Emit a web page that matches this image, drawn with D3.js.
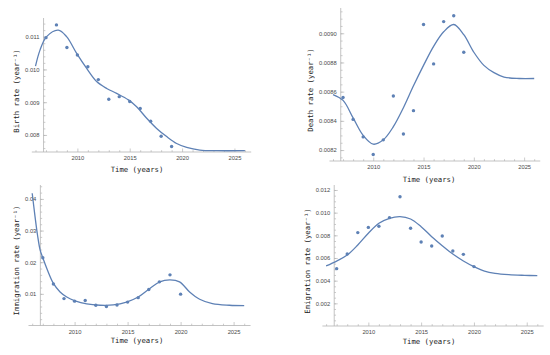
<!DOCTYPE html>
<html>
<head>
<meta charset="utf-8">
<script src="https://cdn.jsdelivr.net/npm/d3@7"></script>
<style>
  body { margin: 0; background: #fff; }
  svg { display: block; }
</style>
</head>
<body>
<script>
// observed yearly rates
var birthYears = [2007,2008,2009,2010,2011,2012,2013,2014,2015,2016,2017,2018,2019];
var birthRate = [0.01097,0.01136,0.01067,0.01044,0.01008,0.00969,0.00909,0.00917,0.00902,0.00881,0.00842,0.00796,0.00765];

var deathYears = [2007,2008,2009,2010,2011,2012,2013,2014,2015,2016,2017,2018,2019];
var deathRate = [0.00856,0.00841,0.00829,0.00817,0.00827,0.00857,0.00831,0.00847,0.00906,0.00879,0.00908,0.00912,0.00887];

var immigrationYears = [2007,2008,2009,2010,2011,2012,2013,2014,2015,2016,2017,2018,2019,2020];
var immigrationRate = [0.0214,0.0131,0.0085,0.0077,0.0079,0.0064,0.0060,0.0065,0.0074,0.0088,0.0114,0.0138,0.0160,0.0099];

var emigrationYears = [2007,2008,2009,2010,2011,2012,2013,2014,2015,2016,2017,2018,2019,2020];
var emigrationRate = [0.00506,0.00635,0.00824,0.00870,0.00880,0.00956,0.01140,0.00862,0.00741,0.00706,0.00794,0.00662,0.00632,0.00524];

// fitted curves
var birthFitYears = [2006,2006.43,2007.06,2008.18,2008.97,2009.93,2010.89,2011.84,2012.8,2013.75,2014.87,2015.66,2016.62,2017.57,2018.53,2019.48,2020.44,2021.7,2023.3,2026];
var birthFitRate = [0.0101,0.01059,0.0110,0.0112,0.0110,0.01049,0.01003,0.00963,0.00942,0.00927,0.00907,0.00886,0.00851,0.0082,0.00795,0.00774,0.00762,0.00754,0.00752,0.00752];

var deathFitYears = [2006,2007,2008,2009,2010,2011,2012,2013,2014,2015,2016,2017,2018,2019,2020,2021,2022,2023,2024.5,2026];
var deathFitRate = [0.00858,0.00854,0.00842,0.0083,0.00824,0.00827,0.00836,0.00849,0.00864,0.00878,0.00891,0.00901,0.00906,0.00899,0.00887,0.00878,0.00873,0.0087,0.00869,0.00869];

var immigrationFitYears = [2006,2006.25,2006.5,2006.75,2007,2007.38,2008,2008.63,2009.26,2010.04,2011.14,2012.39,2013.65,2014.9,2016,2017.1,2018.03,2019,2019.9,2020.85,2021.8,2023,2024.6,2026];
var immigrationFitRate = [0.0418,0.0349,0.0286,0.0238,0.0214,0.018,0.0133,0.0106,0.009,0.0078,0.0068,0.0064,0.0065,0.0074,0.009,0.0117,0.0138,0.0144,0.0138,0.0106,0.0083,0.0069,0.0064,0.0063];

var emigrationFitYears = [2006,2007,2008,2009,2010,2011,2012,2013,2014,2015,2016,2017,2018,2019,2020,2021,2022,2023.3,2024.8,2026];
var emigrationFitRate = [0.0053,0.00573,0.00626,0.00715,0.00818,0.00906,0.0095,0.00965,0.00944,0.00876,0.00788,0.00709,0.00635,0.00574,0.00524,0.00485,0.00465,0.00453,0.00447,0.00444];

// ticks
var yearTicks = [2010,2015,2020,2025];
var birthTicks = [0.008,0.009,0.010,0.011];
var deathTicks = [0.0082,0.0084,0.0086,0.0088,0.0090];
var immigrationTicks = [0.01,0.02,0.03,0.04];
var emigrationTicks = [0.002,0.004,0.006,0.008,0.010,0.012];

var W = 550, H = 355;
var blue = "#5e81b5";
var axisGray = "#b4b4b4";

var svg = d3.select("body").append("svg").attr("width", W).attr("height", H);

var panels = [
	{ label: "Birth rate (year\u207B\u00B9)", years: birthYears, rate: birthRate,
	  fitYears: birthFitYears, fitRate: birthFitRate, ticks: birthTicks, fmt: ".3f", minorStep: 0.0002,
	  x0: 35.5, x1: 244.9, yDom: [0.00748, 0.01157], y0: 152, y1: 18,
	  ylx: 19, yly: 91, xlx: 137, xly: 171.5 },
	{ label: "Death rate (year\u207B\u00B9)", years: deathYears, rate: deathRate,
	  fitYears: deathFitYears, fitRate: deathFitRate, ticks: deathTicks, fmt: ".4f", minorStep: 0.00005,
	  x0: 333, x1: 534.2, yDom: [0.008125, 0.009173], y0: 161, y1: 8,
	  ylx: 313, yly: 90, xlx: 429, xly: 182 },
	{ label: "Immigration rate (year\u207B\u00B9)", years: immigrationYears, rate: immigrationRate,
	  fitYears: immigrationFitYears, fitRate: immigrationFitRate, ticks: immigrationTicks, fmt: ".2f", minorStep: 0.002,
	  x0: 32.2, x1: 244.2, yDom: [0, 0.0444], y0: 325.5, y1: 185,
	  ylx: 19, yly: 260.5, xlx: 137, xly: 343 },
	{ label: "Emigration rate (year\u207B\u00B9)", years: emigrationYears, rate: emigrationRate,
	  fitYears: emigrationFitYears, fitRate: emigrationFitRate, ticks: emigrationTicks, fmt: ".3f", minorStep: 0.0005,
	  x0: 326.1, x1: 537.3, yDom: [0, 0.01244], y0: 326, y1: 185,
	  ylx: 310, yly: 261, xlx: 429, xly: 344 }
];

function drawPanel(p) {
	var x = d3.scaleLinear().domain([2006, 2026]).range([p.x0, p.x1]);
	var y = d3.scaleLinear().domain(p.yDom).range([p.y0, p.y1]);
	var g = svg.append("g");

	var originX = x(2006.77);
	var originY = y(p.yDom[0]);

	// axis lines
	g.append("line")
		.attr("x1", x(2005.65)).attr("x2", x(2026.6))
		.attr("y1", originY).attr("y2", originY)
		.attr("stroke", axisGray).attr("stroke-width", 0.8);
	g.append("line")
		.attr("x1", originX).attr("x2", originX)
		.attr("y1", originY).attr("y2", p.y1)
		.attr("stroke", axisGray).attr("stroke-width", 0.8);

	// x ticks
	var minorYears = d3.range(2006, 2027).filter(function(d) { return d % 5 != 0; });
	var xMinor = g.append("g").attr("transform", "translate(0," + originY + ")")
		.call(d3.axisBottom(x).tickValues(minorYears).tickSize(-1.8).tickFormat(""));
	var xMajor = g.append("g").attr("transform", "translate(0," + originY + ")")
		.call(d3.axisBottom(x).tickValues(yearTicks).tickSize(-3.5).tickPadding(4).tickFormat(d3.format("d")));

	// y ticks
	var minorVals = [];
	for (var v = p.yDom[0] - (p.yDom[0] % p.minorStep); v <= p.yDom[1]; v += p.minorStep) {
		if (v > p.yDom[0] + 1e-9) minorVals.push(v);
	}
	var yMinor = g.append("g").attr("transform", "translate(" + originX + ",0)")
		.call(d3.axisLeft(y).tickValues(minorVals).tickSize(-1.8).tickFormat(""));
	var yMajor = g.append("g").attr("transform", "translate(" + originX + ",0)")
		.call(d3.axisLeft(y).tickValues(p.ticks).tickSize(-3.5).tickPadding(4).tickFormat(d3.format(p.fmt)));

	[xMinor, xMajor, yMinor, yMajor].forEach(function(a) {
		a.select(".domain").remove();
		a.selectAll("line").attr("stroke", axisGray).attr("stroke-width", 0.7);
		a.selectAll("text")
			.style("font-family", "'Liberation Sans', Arial, sans-serif")
			.style("font-size", "5.8px")
			.attr("fill", "#4a4a4a");
	});

	// fit curve
	var line = d3.line()
		.x(function(d, i) { return x(p.fitYears[i]); })
		.y(function(d) { return y(d); })
		.curve(d3.curveCatmullRom.alpha(0.5));
	g.append("path")
		.attr("d", line(p.fitRate))
		.attr("fill", "none")
		.attr("stroke", blue)
		.attr("stroke-width", 1.3);

	// data points
	g.selectAll("circle.pt").data(p.rate).enter().append("circle")
		.attr("class", "pt")
		.attr("cx", function(d, i) { return x(p.years[i]); })
		.attr("cy", function(d) { return y(d); })
		.attr("r", 1.7)
		.attr("fill", blue);

	// axis labels
	g.append("text")
		.attr("x", p.xlx).attr("y", p.xly)
		.attr("text-anchor", "middle")
		.style("font-family", "'DejaVu Sans Mono', monospace")
		.style("font-size", "7.3px")
		.attr("fill", "#222")
		.text("Time (years)");
	g.append("text")
		.attr("transform", "translate(" + p.ylx + "," + p.yly + ") rotate(-90)")
		.attr("text-anchor", "middle")
		.style("font-family", "'DejaVu Sans Mono', monospace")
		.style("font-size", "7.3px")
		.attr("fill", "#222")
		.text(p.label);
}

panels.forEach(drawPanel);
</script>
</body>
</html>
